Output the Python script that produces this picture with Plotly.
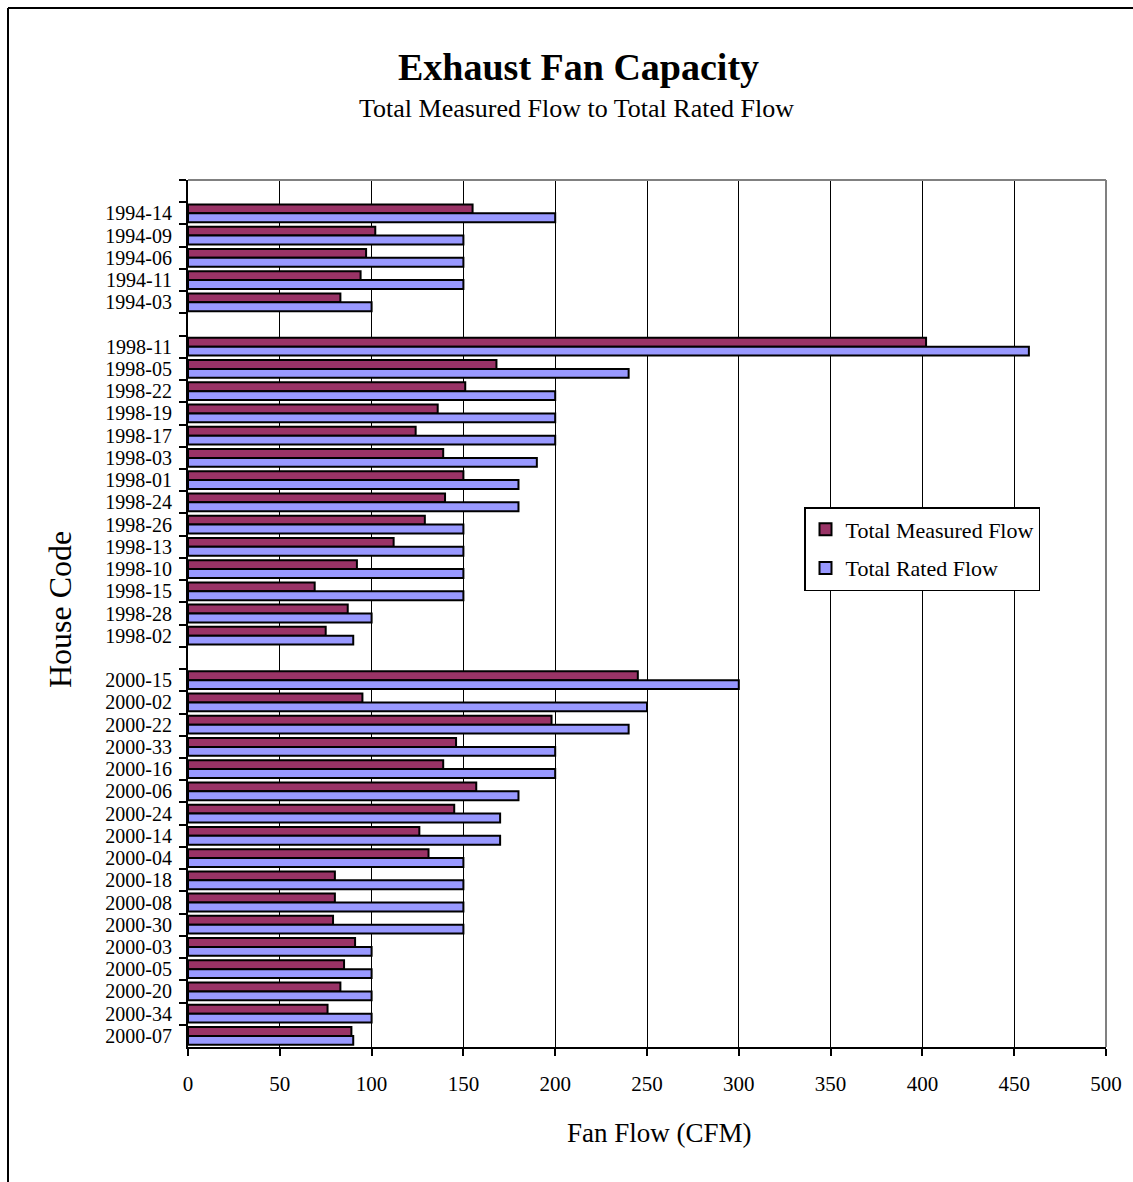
import plotly.graph_objects as go

# House codes by survey year, top to bottom as listed on the chart
houses_1994 = ["1994-14", "1994-09", "1994-06", "1994-11", "1994-03"]
measured_1994 = [155, 102, 97, 94, 83]
rated_1994 = [200, 150, 150, 150, 100]

houses_1998 = ["1998-11", "1998-05", "1998-22", "1998-19", "1998-17", "1998-03", "1998-01",
               "1998-24", "1998-26", "1998-13", "1998-10", "1998-15", "1998-28", "1998-02"]
measured_1998 = [402, 168, 151, 136, 124, 139, 150, 140, 129, 112, 92, 69, 87, 75]
rated_1998 = [458, 240, 200, 200, 200, 190, 180, 180, 150, 150, 150, 150, 100, 90]

houses_2000 = ["2000-15", "2000-02", "2000-22", "2000-33", "2000-16", "2000-06", "2000-24",
               "2000-14", "2000-04", "2000-18", "2000-08", "2000-30", "2000-03", "2000-05",
               "2000-20", "2000-34", "2000-07"]
measured_2000 = [245, 95, 198, 146, 139, 157, 145, 126, 131, 80, 80, 79, 91, 85, 83, 76, 89]
rated_2000 = [300, 250, 240, 200, 200, 180, 170, 170, 150, 150, 150, 150, 100, 100, 100, 100, 90]

x_ticks = [0, 50, 100, 150, 200, 250, 300, 350, 400, 450, 500]

# Blank spacer rows separate the survey years
houses = [" "] + houses_1994 + ["  "] + houses_1998 + ["   "] + houses_2000
measured = [None] + measured_1994 + [None] + measured_1998 + [None] + measured_2000
rated = [None] + rated_1994 + [None] + rated_1998 + [None] + rated_2000

FONT = "Liberation Serif"
W, H = 1133, 1182
L, R, T, B = 188, 27, 180, 135
PW, PH = W - L - R, H - T - B


def px_x(p):
    return (p - L) / PW


def px_y(p):
    return 1 - (p - T) / PH


fig = go.Figure()
fig.add_trace(go.Bar(
    y=houses, x=measured, orientation="h", name="Total Measured Flow",
    marker=dict(color="#993366", line=dict(color="black", width=2)),
    legendgroup="m",
))
fig.add_trace(go.Bar(
    y=houses, x=rated, orientation="h", name="Total Rated Flow",
    marker=dict(color="#9999FF", line=dict(color="black", width=2)),
    legendgroup="r",
))

fig.update_layout(
    width=W, height=H,
    margin=dict(l=L, r=R, t=T, b=B),
    paper_bgcolor="white", plot_bgcolor="white",
    font=dict(family=FONT, color="black"),
    barmode="group", bargap=0.2, bargroupgap=0,
    showlegend=True,
    legend=dict(
        x=px_x(804), y=px_y(507), xanchor="left", yanchor="top",
        bordercolor="black", borderwidth=1.5, bgcolor="white",
        font=dict(family=FONT, size=22), tracegroupgap=7,
    ),
    xaxis=dict(
        range=[0, 500], tickvals=x_ticks, showgrid=True, gridcolor="black", gridwidth=1,
        zeroline=False, showline=True, linecolor="black", linewidth=2,
        ticks="outside", ticklen=7, tickwidth=1.5, tickcolor="black",
        ticklabelstandoff=10, tickfont=dict(family=FONT, size=21),
    ),
    yaxis=dict(
        type="category", categoryorder="array", categoryarray=houses,
        autorange="reversed", showgrid=False, zeroline=False, dtick=1,
        showline=True, linecolor="black", linewidth=2,
        ticks="outside", tickson="boundaries", ticklen=7, tickwidth=1.5, tickcolor="black",
        ticklabelstandoff=10, tickfont=dict(family=FONT, size=20),
    ),
    annotations=[
        dict(text="<b>Exhaust Fan Capacity</b>", x=px_x(578), y=px_y(90),
             xref="paper", yref="paper", xanchor="center", yanchor="bottom",
             showarrow=False, font=dict(family=FONT, size=38)),
        dict(text="Total Measured Flow to Total Rated Flow", x=px_x(576), y=px_y(125),
             xref="paper", yref="paper", xanchor="center", yanchor="bottom",
             showarrow=False, font=dict(family=FONT, size=26)),
        dict(text="House Code", x=px_x(60), y=px_y(610), textangle=-90,
             xref="paper", yref="paper", xanchor="center", yanchor="middle",
             showarrow=False, font=dict(family=FONT, size=32)),
        dict(text="Fan Flow (CFM)", x=px_x(659), y=px_y(1133),
             xref="paper", yref="paper", xanchor="center", yanchor="middle",
             showarrow=False, font=dict(family=FONT, size=27)),
    ],
    shapes=[
        # outer chart frame (top and left edges)
        dict(type="line", xref="paper", yref="paper", x0=px_x(8), x1=px_x(1140),
             y0=px_y(8), y1=px_y(8), line=dict(color="black", width=2)),
        dict(type="line", xref="paper", yref="paper", x0=px_x(8), x1=px_x(8),
             y0=px_y(8), y1=px_y(1190), line=dict(color="black", width=2)),
        # gray plot-area border on top and right
        dict(type="line", xref="paper", yref="paper", x0=0, x1=1, y0=1, y1=1,
             line=dict(color="#808080", width=2), layer="above"),
        dict(type="line", xref="paper", yref="paper", x0=1, x1=1, y0=0, y1=1,
             line=dict(color="#808080", width=2), layer="above"),
    ],
)

fig.write_html("out.html")
